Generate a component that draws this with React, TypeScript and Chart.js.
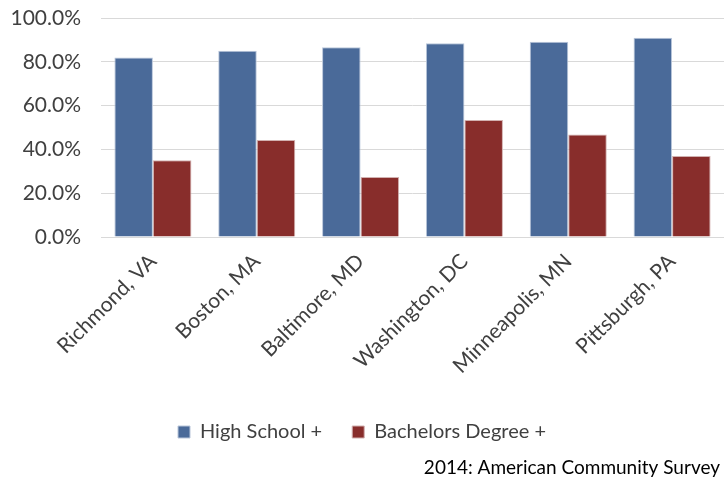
import React, { useEffect, useRef } from "react";
import { Chart, registerables } from "chart.js";

Chart.register(...registerables);

const categories = ["Richmond, VA", "Boston, MA", "Baltimore, MD", "Washington, DC", "Minneapolis, MN", "Pittsburgh, PA"];
const highSchool = [0.82, 0.85, 0.867, 0.885, 0.891, 0.91];
const bachelors = [0.35, 0.443, 0.274, 0.534, 0.468, 0.37];
const seriesNames = ["High School +", "Bachelors Degree +"];
const footerText = "2014: American Community Survey";

const FONT = "Lato, 'Open Sans', sans-serif";

export default function App() {
  const ref = useRef<HTMLCanvasElement | null>(null);
  useEffect(() => {
    document.body.style.margin = "0";
    const footer = {
      id: "footer",
      afterDraw(chart: any) {
        const ctx = chart.ctx;
        ctx.save();
        ctx.font = `19px ${FONT}`;
        ctx.fillStyle = "#000000";
        ctx.textAlign = "right";
        ctx.textBaseline = "middle";
        ctx.fillText(footerText, 720, 468);
        ctx.restore();
      },
    };
    const chart = new Chart(ref.current!, {
      type: "bar",
      data: {
        labels: categories,
        datasets: [
          { label: seriesNames[0], data: highSchool, backgroundColor: "#4A6A99", borderColor: "#B9C6DA", borderWidth: 1, categoryPercentage: 0.742, barPercentage: 1 },
          { label: seriesNames[1], data: bachelors, backgroundColor: "#882D2B", borderColor: "#D2B1B0", borderWidth: 1, categoryPercentage: 0.742, barPercentage: 1 },
        ],
      },
      options: {
        animation: false,
        responsive: false,
        layout: { padding: { top: 18, left: 0, right: 0, bottom: 33 } },
        plugins: {
          legend: {
            position: "bottom",
            labels: { boxWidth: 12, boxHeight: 12, padding: 30, color: "#404040", font: { family: FONT, size: 20 } },
          },
          tooltip: { enabled: false },
        },
        scales: {
          x: {
            grid: { display: false },
            border: { color: "#D9D9D9" },
            ticks: { maxRotation: 45, minRotation: 45, color: "#404040", font: { family: FONT, size: 21 }, padding: 4 },
            afterFit(scale: any) { scale.height = 155; scale.paddingTop = 0; },
          },
          y: {
            min: 0,
            max: 1,
            ticks: {
              stepSize: 0.2,
              color: "#404040",
              padding: 20,
              font: { family: FONT, size: 21 },
              callback: (v: any) => (Number(v) * 100).toFixed(1) + "%",
            },
            grid: { color: "#D9D9D9", drawTicks: false, lineWidth: 1 },
            border: { display: false },
            afterFit(scale: any) { scale.width = 101; scale.paddingTop = 0; scale.paddingBottom = 0; },
          },
        },
      },
      plugins: [footer],
    });
    return () => chart.destroy();
  }, []);
  return <canvas ref={ref} width={724} height={485} style={{ display: "block" }} />;
}
